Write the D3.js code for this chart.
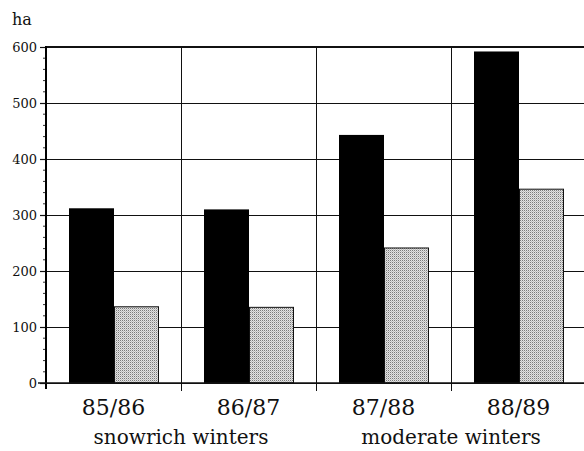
<!DOCTYPE html>
<html><head><meta charset="utf-8">
<script src="https://cdn.jsdelivr.net/npm/d3@7"></script>
<style>body{margin:0;background:#fff}svg{display:block}</style>
</head><body>
<svg id="c" width="584" height="451"></svg>
<script>
const categories = ["85/86", "86/87", "87/88", "88/89"];
const series1 = [312, 310, 443, 592];
const series2 = [137, 136, 242, 347];
const yTicks = [0, 100, 200, 300, 400, 500, 600];
const groupLabels = ["snowrich winters", "moderate winters"];
const unitLabel = "ha";

(function () {
const svg = d3.select("#c");
const font = "'DejaVu Serif', 'Liberation Serif', serif";
const pLeft = 46, pRight = 586, pTop = 47, pBottom = 383;

const defs = svg.append("defs");
const pat = defs.append("pattern").attr("id", "stip").attr("patternUnits", "userSpaceOnUse")
  .attr("width", 2).attr("height", 2);
pat.append("rect").attr("width", 2).attr("height", 2).attr("fill", "#e2e2e2");
pat.append("rect").attr("width", 1).attr("height", 1).attr("fill", "#7a7a7a");
pat.append("rect").attr("x", 1).attr("y", 1).attr("width", 1).attr("height", 1).attr("fill", "#bdbdbd");

const x = d3.scaleBand().domain(categories).range([pLeft, pRight]).paddingInner(0).paddingOuter(0);
const y = d3.scaleLinear().domain([0, 600]).range([pBottom, pTop]);

// horizontal gridlines
svg.append("g").attr("shape-rendering", "crispEdges").selectAll("line").data(yTicks).join("line")
  .attr("x1", pLeft).attr("x2", pRight).attr("y1", d => y(d)).attr("y2", d => y(d))
  .attr("stroke", "#111").attr("stroke-width", d => d === 600 ? 2 : 1);

// vertical boundaries
svg.append("g").attr("shape-rendering", "crispEdges").selectAll("line").data(categories.slice(1)).join("line")
  .attr("x1", d => x(d)).attr("x2", d => x(d)).attr("y1", pTop).attr("y2", pBottom + 8)
  .attr("stroke", "#111").attr("stroke-width", 1);

// bars
const bw = 45;
const g = svg.append("g");
g.selectAll(".b1").data(categories).join("rect").attr("class", "b1")
  .attr("x", d => x(d) + 23).attr("width", bw)
  .attr("y", (d, i) => y(series1[i])).attr("height", (d, i) => y(0) - y(series1[i]))
  .attr("fill", "#000");
g.selectAll(".b2").data(categories).join("rect").attr("class", "b2")
  .attr("x", d => x(d) + 23 + bw + 0.5).attr("width", bw - 1)
  .attr("y", (d, i) => y(series2[i]) + 0.5).attr("height", (d, i) => y(0) - y(series2[i]) - 0.5)
  .attr("fill", "url(#stip)").attr("stroke", "#111").attr("stroke-width", 1);

// y axis
const yAxis = d3.axisLeft(y).tickValues(yTicks).tickSize(6).tickPadding(3);
const ya = svg.append("g").attr("transform", `translate(${pLeft},0)`).call(yAxis)
  .attr("font-family", font).attr("font-size", 13);
ya.select(".domain").remove();
ya.selectAll("line").attr("stroke", "#111").attr("stroke-width", 1.2);
ya.selectAll("text").style("font-family", font).style("font-size", "13px").attr("fill", "#111");
// minor ticks
const minor = d3.range(0, 601, 20).filter(v => v % 100 !== 0);
svg.append("g").selectAll("line").data(minor).join("line")
  .attr("x1", pLeft - 3).attr("x2", pLeft).attr("y1", d => y(d)).attr("y2", d => y(d))
  .attr("stroke", "#333").attr("stroke-width", 1);
svg.append("line").attr("x1", pLeft).attr("x2", pLeft).attr("y1", pTop - 1).attr("y2", pBottom + 6)
  .attr("stroke", "#000").attr("stroke-width", 2);
svg.append("line").attr("x1", pLeft - 8).attr("x2", pRight).attr("y1", pBottom).attr("y2", pBottom)
  .attr("stroke", "#111").attr("stroke-width", 1.5);

// category labels
svg.append("g").selectAll("text").data(categories).join("text")
  .attr("x", d => x(d) + x.bandwidth() / 2).attr("y", 415)
  .attr("text-anchor", "middle").style("font-family", font).style("font-size", "22px").attr("fill", "#111")
  .text(d => d);

svg.append("g").selectAll("text").data(groupLabels).join("text")
  .attr("x", (d, i) => (x(categories[i * 2]) + x(categories[i * 2 + 1]) + x.bandwidth()) / 2)
  .attr("y", 444).attr("text-anchor", "middle").style("font-family", font).style("font-size", "20px")
  .attr("fill", "#111").text(d => d);

svg.append("text").attr("x", 12).attr("y", 25).style("font-family", font).style("font-size", "16px")
  .attr("fill", "#111").text(unitLabel);
})();
</script>
</body></html>
